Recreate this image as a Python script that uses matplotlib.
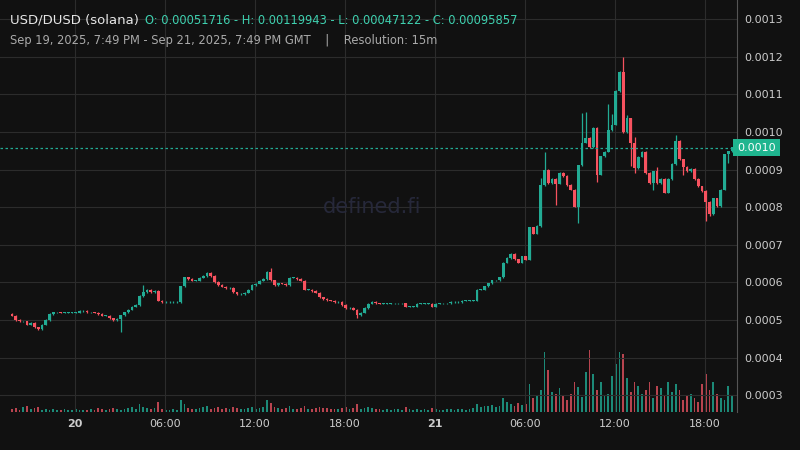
import matplotlib
matplotlib.use("Agg")
import matplotlib.pyplot as plt
import numpy as np

closes_a = [5.11,5.00,4.97,4.97,4.87,4.92,4.81,4.76,4.87,5.00,5.16,5.21,5.21,5.19,5.19,5.19,5.19,5.19,5.24,5.24,
            5.21,5.21,5.19,5.16,5.11,5.11,5.05,5.00,5.03,5.13,5.21,5.27,5.35,5.40,5.64,5.74,5.80,5.74,5.77,5.51,
            5.48,5.48,5.48,5.48,5.48,5.90,6.14,6.09,6.04,6.04,6.12,6.17,6.25,6.17,6.01,5.93,5.88,5.85,5.85,5.74]
closes_b = [5.69,5.69,5.72,5.80,5.93,5.96,6.04,6.09,6.28,6.06,5.93,5.98,5.96,5.93,6.12,6.12,6.09,6.04,5.80,5.80,
            5.77,5.72,5.61,5.56,5.53,5.51,5.48,5.48,5.40,5.32,5.32,5.27,5.13,5.19,5.32,5.43,5.48,5.45,5.43,5.43,
            5.43,5.45,5.45,5.45,5.45,5.35,5.35,5.35,5.43,5.43,5.43,5.43,5.35,5.43,5.45,5.45,5.45,5.48,5.48,5.48,
            5.51,5.51,5.51,5.51]
closes_c = [5.80,5.80,5.90,5.98,6.06,6.06,6.14,6.52,6.65,6.76,6.62,6.52,6.70,6.60,7.47,7.29,7.50,8.59,8.99,8.64,
            8.75,8.62,8.91,8.83,8.59,8.46,8.01,9.12,9.71,9.84,9.60,10.11,8.86,9.36,9.47,10.05,10.19,11.09,11.60,10.00,
            10.37,9.71,9.04,9.34,9.47,8.91,8.64,8.96,8.64,8.75,8.38,8.75,9.15,9.76,9.28,9.07,8.96,9.02,8.75,8.56,
            8.43,8.14,7.82,8.24,8.03,8.46,9.41,9.49,9.59]
first_open = 5.17
# notable wick extremes (index: (high, low)), units 1e-4
wick_highs = {35: 5.93, 69: 6.38, 141: 8.78, 142: 9.47, 152: 10.50, 153: 10.53, 159: 10.74,
              160: 10.48, 163: 11.99, 164: 10.45, 166: 9.87, 172: 9.07, 177: 9.92}
wick_lows = {29: 4.68, 92: 5.05, 145: 8.06, 151: 7.58, 156: 8.67, 165: 9.10, 166: 8.91,
             171: 8.46, 179: 8.86, 185: 7.63, 186: 7.77, 191: 9.18}
vol_a = [3,4,2,5,6,3,4,5,2,3,2,3,2,2,3,2,2,3,2,2,2,3,2,4,3,2,3,4,3,2,3,4,5,3,8,5,4,3,4,10,
         3,2,2,3,2,12,8,4,3,3,4,5,6,3,4,5,3,4,3,5]
vol_b = [4,3,3,4,5,3,4,5,12,9,5,4,3,4,6,3,3,4,6,3,3,4,5,4,4,3,3,3,4,5,3,4,8,3,4,5,4,3,3,2,
         3,2,3,3,2,5,3,2,3,2,3,2,4,3,2,2,3,3,2,3,3,2,3,4]
vol_c = [8,5,6,6,7,5,6,14,10,8,6,9,7,8,28,14,16,22,60,42,20,18,24,16,12,18,30,25,15,40,
         62,38,22,30,16,18,36,48,60,58,34,20,30,26,18,22,30,14,26,24,16,30,20,28,22,12,16,18,14,10,
         28,38,22,30,18,14,12,26,16]
y_ticks = [0.0003,0.0004,0.0005,0.0006,0.0007,0.0008,0.0009,0.0010,0.0011,0.0012,0.0013]
x_tick_labels = ["20","06:00","12:00","18:00","21","06:00","12:00","18:00"]
last_close = 0.00095857

closes = np.array(closes_a + closes_b + closes_c) * 1e-4
vols = np.array(vol_a + vol_b + vol_c, dtype=float)
n = len(closes)
opens = np.concatenate([[first_open * 1e-4], closes[:-1]])
highs = np.maximum(opens, closes) + 0.0000015
lows = np.minimum(opens, closes) - 0.0000015
for k, v in wick_highs.items():
    highs[k] = max(highs[k], v * 1e-4)
for k, v in wick_lows.items():
    lows[k] = min(lows[k], v * 1e-4)

BG = "#111111"
GREEN = "#22ab94"
RED = "#f7525f"
fig = plt.figure(figsize=(8, 4.5), dpi=100, facecolor=BG)
ax = fig.add_axes([0, 38/450, 737/800, 412/450])
ax.set_facecolor(BG)
idx = np.arange(n)
x0 = -12/3.75
ax.set_xlim(x0, x0 + 737/3.75)
ax.set_ylim(0.0005 - 92/376000, 0.0005 + 320/376000)

axv = ax.twinx()
axv.set_ylim(0, 412)
axv.set_axis_off()
up = closes >= opens
vcol = np.where(up, "#1c8a78", "#b8444f")
axv.bar(idx, vols, width=0.5, color=vcol, zorder=1)

ax.set_zorder(axv.get_zorder() + 1)
ax.patch.set_visible(False)
fig.add_artist(plt.Rectangle((0, 38/450), 737/800, 412/450, color=BG, zorder=-5, transform=fig.transFigure))

colors = np.where(up, GREEN, RED)
ax.vlines(idx, lows, highs, colors=colors, linewidth=0.9, zorder=3)
body_b = np.minimum(opens, closes)
body_h = np.maximum(np.abs(closes - opens), 0.0000012)
ax.bar(idx, body_h, bottom=body_b, width=0.75, color=colors, zorder=4)

xt = [16.8 + 24*i for i in range(8)]
ax.set_xticks(xt)
ax.set_xticklabels(x_tick_labels)
for lbl in ax.get_xticklabels():
    lbl.set_color("#cccccc"); lbl.set_fontsize(8)
    if lbl.get_text() in ("20", "21"):
        lbl.set_fontweight("bold")
ax.set_yticks(y_ticks)
ax.yaxis.tick_right()
ax.set_yticklabels([f"{v:.4f}" for v in y_ticks], color="#cccccc", fontsize=8)
ax.tick_params(axis="both", length=0, pad=5)
ax.grid(True, color="#2c2c2c", linewidth=0.8)
for s in ["top", "left", "bottom"]:
    ax.spines[s].set_visible(False)
ax.spines["right"].set_color("#555555")
ax.axhline(last_close, color=GREEN, linestyle=(0, (2, 2)), linewidth=0.9, zorder=5)
ax.text(1.0, last_close, "0.0010", transform=ax.get_yaxis_transform(), ha="left", va="center",
        color="white", fontsize=8, bbox=dict(boxstyle="square,pad=0.35", fc="#1fb58f", ec="none"),
        clip_on=False, zorder=6)

fig.text(0.012, 0.955, "USD/DUSD (solana)", color="#e6e6e6", fontsize=9.5, va="center")
fig.text(0.181, 0.955, "O: 0.00051716 - H: 0.00119943 - L: 0.00047122 - C: 0.00095857",
         color="#3fd1b0", fontsize=8.3, va="center")
fig.text(0.012, 0.91, "Sep 19, 2025, 7:49 PM - Sep 21, 2025, 7:49 PM GMT    |    Resolution: 15m",
         color="#aaaaaa", fontsize=8.3, va="center")
fig.text(0.465, 0.54, "defined.fi", color="#26283a", fontsize=15, ha="center", va="center")

fig.savefig("out.png", dpi=100, facecolor=BG)
